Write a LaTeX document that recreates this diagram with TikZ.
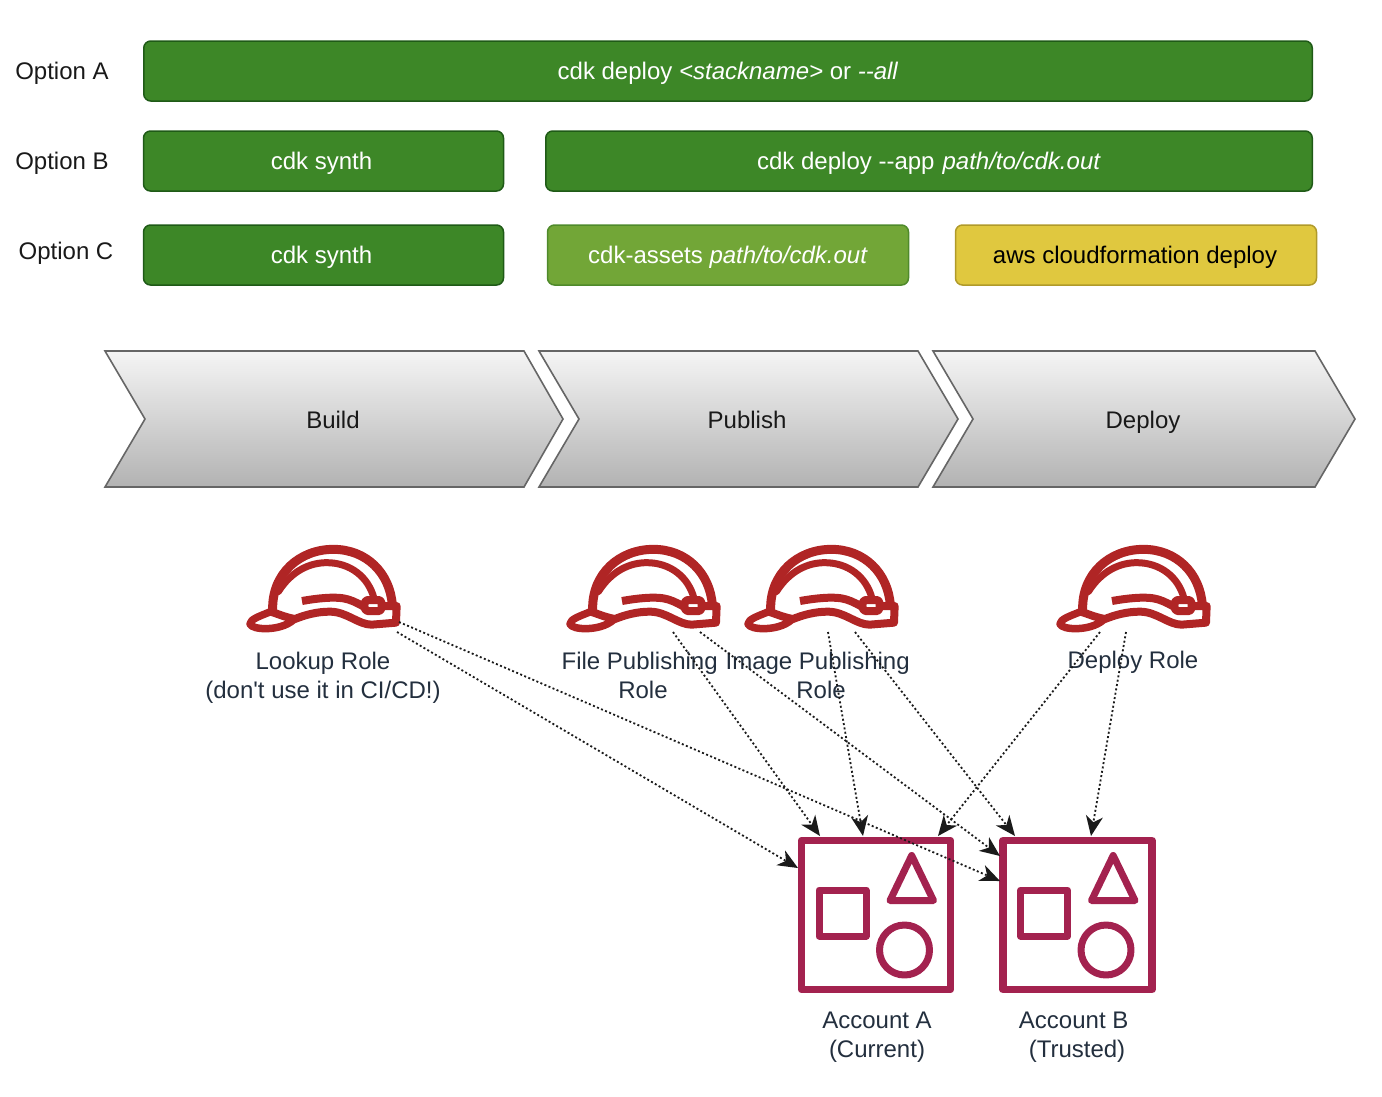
\documentclass[tikz,border=0pt]{standalone}
\usepackage{fontspec}
\setmainfont[Ligatures=TeXOff]{Liberation Sans}
\usetikzlibrary{arrows.meta}
\definecolor{gfill}{HTML}{3D8727}
\definecolor{gline}{HTML}{1F5A17}
\definecolor{lfill}{HTML}{72A637}
\definecolor{lline}{HTML}{4F8A2B}
\definecolor{yfill}{HTML}{E0C83F}
\definecolor{yline}{HTML}{B09A2A}
\definecolor{chevline}{HTML}{666666}
\definecolor{hatred}{HTML}{B02525}
\definecolor{acct}{HTML}{A3224F}
\definecolor{awstext}{HTML}{232F3E}
\definecolor{arrowc}{HTML}{1A1A1A}
\tikzset{
 x=1pt,y=-1pt,
 txt/.style={font=\fontsize{24}{29}\selectfont,align=center,inner sep=0pt,text height=22pt,text depth=5pt},
 lbl/.style={txt,text=black!90},
 awslbl/.style={txt,text=awstext},
 bar/.style={rounded corners=7pt,line width=1.5pt,txt},
 greenbar/.style={bar,draw=gline,fill=gfill,text=white},
 lightbar/.style={bar,draw=lline,fill=lfill,text=white},
 yellowbar/.style={bar,draw=yline,fill=yfill,text=black},
 chev/.style={draw=chevline,line width=1.6pt,top color=black!4,bottom color=black!30,shading angle=0},
 link/.style={draw=arrowc,line width=1.8pt,line cap=butt,dash pattern=on 2pt off 2.4pt,-{Stealth[length=20pt,width=17pt,inset=6pt]}},
 hatline/.style={draw=hatred,line cap=round,line join=round},
 acctline/.style={draw=acct,line width=7pt,line join=round},
 pics/hat/.style={code={
  \begin{scope}[x=0.3333pt,y=-0.3333pt]
  \draw[hatline,line width=9pt] (128,240) .. controls (125,130) and (210,58) .. (310,58) .. controls (410,58) and (480,130) .. (487,225);
  \draw[hatline,line width=7pt] (145,185) .. controls (185,122) and (240,98) .. (290,98) .. controls (360,98) and (415,140) .. (432,205);
  \draw[hatline,line width=8pt,line cap=butt] (216,213) .. controls (260,205) and (310,200) .. (340,205) .. controls (360,208) and (380,218) .. (398,228);
  \draw[hatline,line width=8pt] (412,210) -- (448,210) .. controls (458,210) and (458,243) .. (448,243) -- (412,243) .. controls (400,243) and (400,210) .. (412,210) -- cycle;
  \draw[hatline,line width=8pt] (465,228) -- (500,228) -- (498,278) -- (425,284) .. controls (385,284) and (350,245) .. (300,245) .. controls (260,245) and (225,255) .. (195,267) .. controls (165,262) and (140,250) .. (122,245);
  \draw[hatline,line width=7.5pt] (122,245) .. controls (90,258) and (60,268) .. (60,282) .. controls (65,300) and (150,305) .. (190,270);
  \end{scope}}},
 pics/account/.style={code={
  \draw[acctline,line width=7.4pt] (3.5,3.5) rectangle (152.5,152.5);
  \draw[acctline] (21,53) rectangle (68,99);
  \draw[acctline] (113.7,18.5) -- (92,63.5) -- (135.5,63.5) -- cycle;
  \draw[acctline] (106.5,113) circle (25);}},
}
\begin{document}
\begin{tikzpicture}
\useasboundingbox (0,0) rectangle (1382,1096);
% option labels
\node[lbl] (optA) at (62,71) {Option A};
\node[lbl] (optB) at (62,161) {Option B};
\node[lbl] (optC) at (66,251) {Option C};
% bars
\node[greenbar,minimum width=1168.5pt,minimum height=60pt] (barA) at (728,71) {cdk deploy \textit{<stackname>} or \textit{--all}};
\node[greenbar,minimum width=360pt,minimum height=60pt] (barB1) at (323.5,161) {cdk synth\hspace{4pt}};
\node[greenbar,minimum width=766.5pt,minimum height=60pt] (barB2) at (929,161) {cdk deploy --app\hspace{8pt}\textit{path/to/cdk.out}};
\node[greenbar,minimum width=360pt,minimum height=60pt] (barC1) at (323.5,255) {cdk synth\hspace{4pt}};
\node[lightbar,minimum width=361pt,minimum height=60pt] (barC2) at (728,255) {cdk-assets \textit{path/to/cdk.out}};
\node[yellowbar,minimum width=361pt,minimum height=60pt] (barC3) at (1136,255) {aws cloudformation deploy\hspace{2pt}};
% chevrons
\path[chev] (105,351) -- (524,351) -- (563,419) -- (524,487) -- (105,487) -- (145,419) -- cycle;
\path[chev] (539,351) -- (918,351) -- (958,419) -- (918,487) -- (539,487) -- (579,419) -- cycle;
\path[chev] (933,351) -- (1315,351) -- (1355,419) -- (1315,487) -- (933,487) -- (973,419) -- cycle;
\node[lbl] (build) at (333,419.5) {Build};
\node[lbl] (publish) at (747,419.5) {Publish};
\node[lbl] (deploy) at (1143,419.5) {Deploy};
% hats
\pic at (230,530) {hat};
\pic at (550,530) {hat};
\pic at (728,530) {hat};
\pic at (1040,530) {hat};
\node[awslbl] (lookup) at (323,689.5) {Lookup Role\\(don't use it in CI/CD!)};
\node[awslbl] (filepub) at (643,689.5) {File Publishing\hspace{6.7pt}\null\\Role};
\node[awslbl] (imgpub) at (821,689.5) {Image Publishing\hspace{6.7pt}\null\\Role};
\node[awslbl] (deployrole) at (1133,660) {Deploy Role};
% accounts
\pic at (798,837) {account};
\pic at (999.5,837) {account};
\node[awslbl] (acctA) at (877,1049) {Account A\\(Current)};
\node[awslbl] (acctB) at (1077,1049) {Account B\hspace{6.7pt}\null\\(Trusted)};
% connector ends
\coordinate (hL1) at (399,622);
\coordinate (hL2) at (397,632);
\coordinate (hF1) at (673,632);
\coordinate (hF2) at (700,632);
\coordinate (hI1) at (828,632);
\coordinate (hI2) at (855,632);
\coordinate (hD1) at (1100,632);
\coordinate (hD2) at (1126,632);
\coordinate (aW) at (798,868);
\coordinate (aN1) at (820,836);
\coordinate (aN2) at (863,836);
\coordinate (aN3) at (938,836);
\coordinate (bW1) at (1000,856);
\coordinate (bW2) at (1000,881);
\coordinate (bN1) at (1015,836);
\coordinate (bN2) at (1091,836);
\draw[link] (hL1) -- (bW2);
\draw[link] (hL2) -- (aW);
\draw[link] (hF1) -- (aN1);
\draw[link] (hF2) -- (bW1);
\draw[link] (hI1) -- (aN2);
\draw[link] (hI2) -- (bN1);
\draw[link] (hD1) -- (aN3);
\draw[link] (hD2) -- (bN2);
\end{tikzpicture}
\end{document}
